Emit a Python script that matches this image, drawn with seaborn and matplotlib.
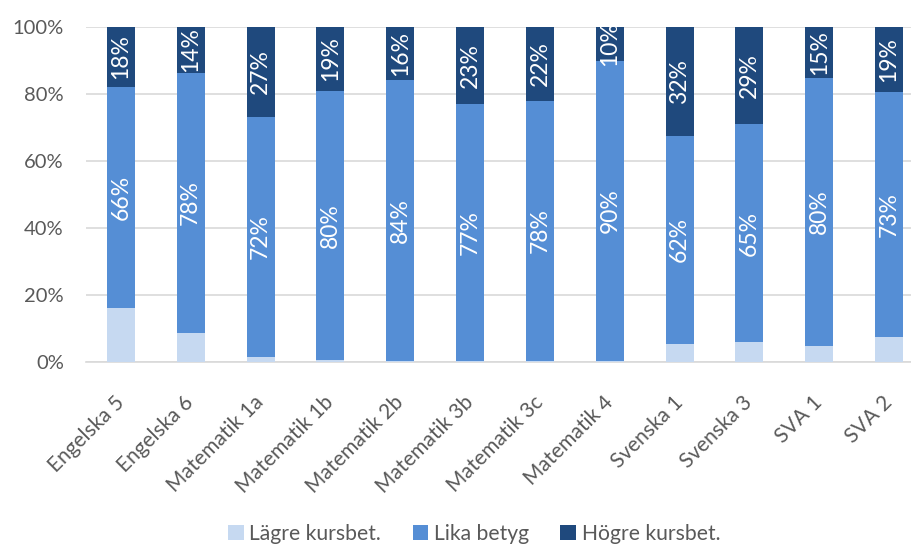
"""Stacked share of course grades vs course exam (100% bars)."""

import matplotlib
matplotlib.use("Agg")
import matplotlib.pyplot as plt
import numpy as np
import pandas as pd
import seaborn as sns
from matplotlib.patches import Patch

courses = ["Engelska 5", "Engelska 6", "Matematik 1a", "Matematik 1b", "Matematik 2b",
           "Matematik 3b", "Matematik 3c", "Matematik 4", "Svenska 1", "Svenska 3",
           "SVA 1", "SVA 2"]
lagre = [16.1, 8.8, 1.5, 0.5, 0.3, 0.3, 0.3, 0.3, 5.5, 6.1, 4.8, 7.5]
lika = [66.0, 77.6, 71.6, 80.4, 83.8, 76.6, 77.6, 89.6, 62.0, 64.8, 80.1, 73.1]
hogre = [17.9, 13.6, 26.9, 19.1, 15.9, 23.1, 22.1, 10.1, 32.5, 29.1, 15.1, 19.4]
series = ["Lägre kursbet.", "Lika betyg", "Högre kursbet."]
colors = ["#C6D9F1", "#558ED5", "#1F497D"]

sns.set_theme(style="white")
plt.rcParams["font.family"] = ["Lato", "DejaVu Sans"]
GRAY = "#595959"

df = pd.DataFrame({"course": courses, "lagre": lagre, "lika": lika, "hogre": hogre})
df["c1"] = df["lagre"]
df["c2"] = df["lagre"] + df["lika"]
df["c3"] = df["c2"] + df["hogre"]

fig = plt.figure(figsize=(9.11, 5.47), dpi=100)
ax = fig.add_axes([86 / 911, 1 - 362 / 547, 838 / 911, 335 / 547])

for col, color in zip(["c3", "c2", "c1"], colors[::-1]):
    sns.barplot(data=df, x="course", y=col, color=color, width=0.4,
                saturation=1, linewidth=0, ax=ax, zorder=3)

# segment labels (rotated, white)
for i, row in df.iterrows():
    ax.text(i, row["lagre"] + row["lika"] / 2, f"{row['lika']:.0f}%", rotation=90,
            ha="center", va="center", color="white", fontsize=16.5, zorder=4)
    ax.text(i, row["c2"] + row["hogre"] / 2, f"{row['hogre']:.0f}%", rotation=90,
            ha="center", va="center", color="white", fontsize=16.5, zorder=4)

ax.set_ylim(0, 100)
ax.set_xlim(-0.5, len(courses) - 0.5)
ax.set_yticks(np.arange(0, 101, 20))
ax.set_yticklabels([f"{v}%" for v in range(0, 101, 20)])
ax.yaxis.grid(True, color="#D9D9D9", linewidth=1.2, zorder=0)
ax.set_axisbelow(True)
ax.set_xlabel("")
ax.set_ylabel("")
for s in ["top", "right", "left"]:
    ax.spines[s].set_visible(False)
ax.spines["bottom"].set_color("#D9D9D9")
ax.spines["bottom"].set_linewidth(1.2)
ax.tick_params(axis="y", length=0, colors=GRAY, labelsize=14.5, pad=16)
ax.tick_params(axis="x", length=0, colors=GRAY, labelsize=15, pad=27)
plt.setp(ax.get_xticklabels(), rotation=45, ha="right", va="center",
         rotation_mode="anchor")

handles = [Patch(facecolor=c, edgecolor="none") for c in colors]
fig.legend(handles, series, loc="center", bbox_to_anchor=(474 / 911, 1 - 534 / 547),
           ncol=3, frameon=False, fontsize=15.2, labelcolor=GRAY,
           handlelength=0.75, handleheight=0.75, handletextpad=0.25,
           columnspacing=1.5)

fig.savefig("out.png", dpi=100)
